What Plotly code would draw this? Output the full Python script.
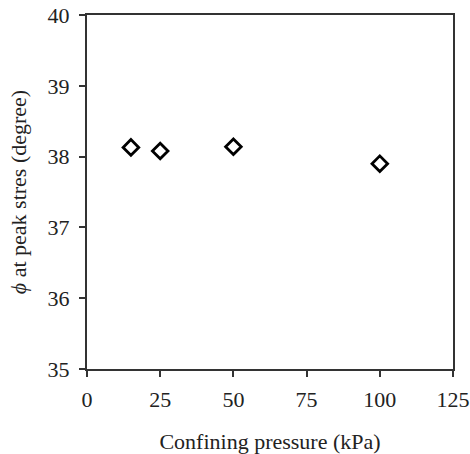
import plotly.graph_objects as go

pressure = [15, 25, 50, 100]
phi_peak = [38.13, 38.08, 38.14, 37.90]
x_ticks = [0, 25, 50, 75, 100, 125]
y_ticks = [35, 36, 37, 38, 39, 40]

fig = go.Figure()
fig.add_trace(go.Scatter(
    x=pressure, y=phi_peak, mode="markers",
    marker=dict(symbol="diamond-open", size=12, color="black", line=dict(width=2.8, color="black")),
    showlegend=False,
))

font_family = "Liberation Serif, Times New Roman, serif"
fig.update_layout(
    width=470, height=454,
    margin=dict(l=87, r=17, t=15, b=85, autoexpand=False),
    paper_bgcolor="white", plot_bgcolor="white",
    font=dict(family=font_family, color="#222", size=22),
)
fig.update_xaxes(
    range=[0, 125], tickvals=x_ticks, ticks="outside", ticklen=6, tickwidth=2,
    tickcolor="#333", showline=True, linecolor="#333", linewidth=2, mirror=True,
    showgrid=False, zeroline=False, tickfont=dict(size=22, family=font_family),
    ticklabelstandoff=4, automargin=False,
    title=dict(text="Confining pressure (kPa)", font=dict(size=22, family=font_family), standoff=22),
)
fig.update_yaxes(
    range=[35, 40], tickvals=y_ticks, ticks="outside", ticklen=6, tickwidth=2,
    tickcolor="#333", showline=True, linecolor="#333", linewidth=2, mirror=True,
    showgrid=False, zeroline=False, tickfont=dict(size=22, family=font_family),
    ticklabelstandoff=5, automargin=False,
    title=dict(text="<i>ϕ</i> at peak stres (degree)", font=dict(size=22, family=font_family), standoff=15),
)
fig.write_html(
    "out.html",
    config={"displayModeBar": False},
    post_script="document.body.style.margin='0';document.body.style.overflow='hidden';",
)
